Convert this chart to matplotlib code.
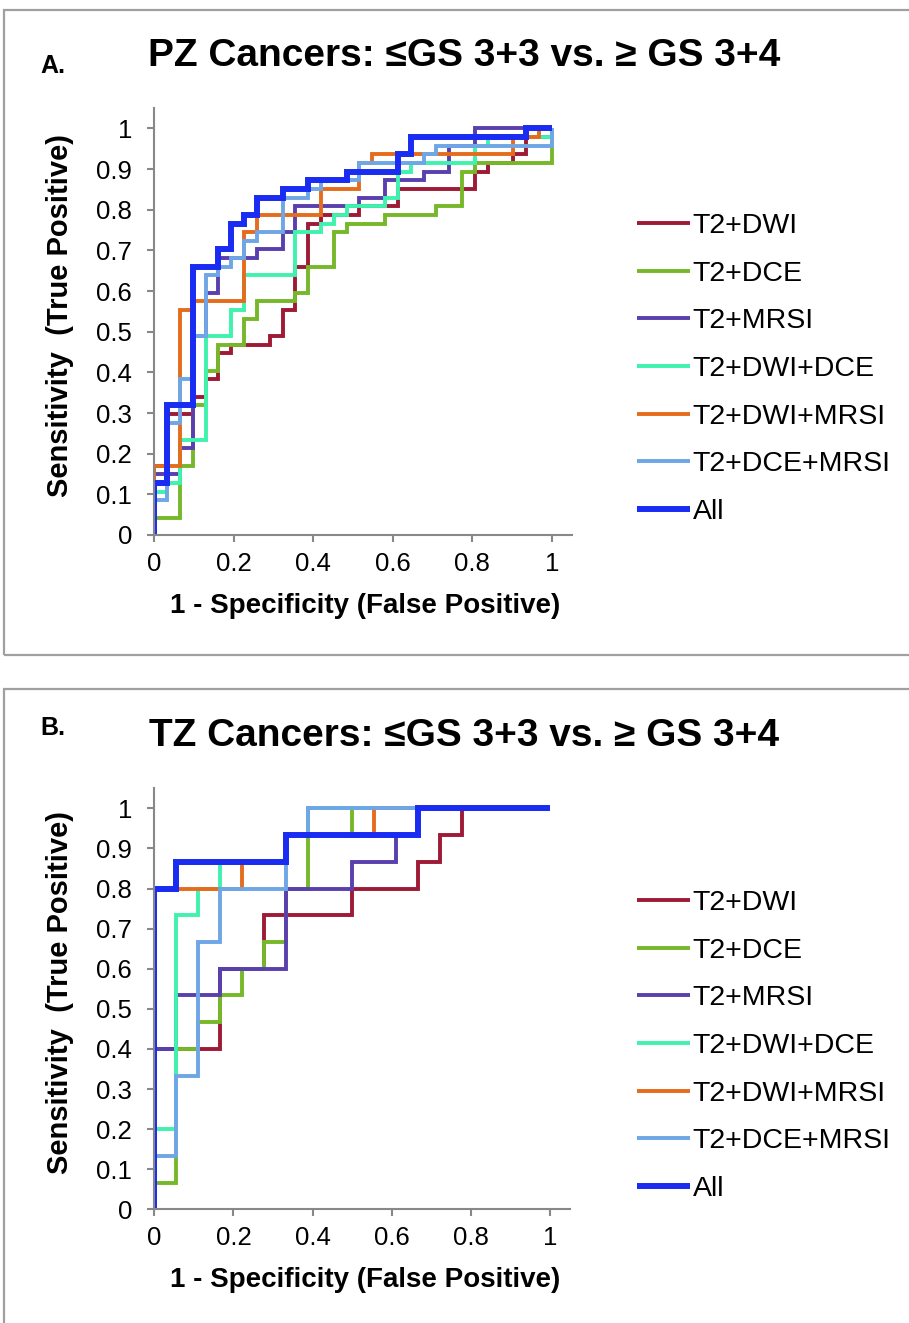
import matplotlib
matplotlib.use('Agg')
import matplotlib.pyplot as plt
from matplotlib.patches import Rectangle

plt.rcParams['font.family'] = ['Liberation Sans', 'DejaVu Sans']

labels = ['T2+DWI', 'T2+DCE', 'T2+MRSI', 'T2+DWI+DCE', 'T2+DWI+MRSI', 'T2+DCE+MRSI', 'All']
colors = ['#9e1a35', '#76b82a', '#5a3fae', '#3ff2ad', '#e46c1c', '#6fa6e6', '#1a2cf2']

# PZ: 31 negatives, 47 positives (counts at each step corner)
pz_neg, pz_pos = 31, 47
pz_fp = [
    [0, 1, 3, 4, 5, 6, 9, 10, 11, 12, 13, 16, 19, 25, 26, 28, 29, 31, 31],
    [0, 2, 3, 4, 5, 7, 8, 11, 12, 14, 15, 18, 22, 24, 25, 31, 31],
    [0, 2, 3, 4, 5, 8, 10, 11, 16, 18, 21, 23, 25, 31],
    [0, 1, 2, 4, 6, 7, 11, 13, 14, 15, 18, 19, 20, 25, 26, 31, 31],
    [0, 2, 3, 7, 8, 13, 16, 17, 28, 30, 31],
    [0, 1, 2, 3, 4, 5, 6, 7, 8, 10, 12, 13, 16, 21, 22, 31, 31],
    [0, 1, 3, 5, 6, 7, 8, 10, 12, 15, 19, 20, 29, 31],
]
pz_tp = [
    [0, 8, 14, 16, 18, 21, 22, 23, 26, 31, 36, 37, 38, 40, 42, 43, 44, 46, 47],
    [0, 2, 8, 15, 19, 22, 25, 27, 28, 31, 35, 36, 37, 38, 42, 43, 47],
    [0, 7, 10, 23, 28, 32, 33, 35, 38, 39, 41, 42, 45, 47],
    [0, 5, 6, 11, 23, 26, 30, 35, 36, 37, 38, 39, 42, 43, 45, 46, 47],
    [0, 8, 26, 27, 35, 37, 40, 43, 44, 46, 47],
    [0, 4, 13, 18, 23, 30, 31, 32, 34, 35, 39, 40, 41, 43, 44, 45, 47],
    [0, 6, 15, 31, 33, 36, 37, 39, 40, 41, 42, 44, 46, 47],
]

# TZ: 18 negatives, 15 positives
tz_neg, tz_pos = 18, 15
tz_fp = [
    [0, 3, 5, 9, 12, 13, 14, 18],
    [0, 1, 2, 3, 4, 5, 6, 7, 9, 18],
    [0, 1, 3, 6, 9, 11, 12, 18],
    [0, 1, 2, 3, 6, 7, 18],
    [0, 4, 6, 10, 18],
    [0, 1, 2, 3, 6, 7, 18],
    [0, 1, 6, 12, 18],
]
tz_tp = [
    [0, 6, 9, 11, 12, 13, 14, 15],
    [0, 1, 6, 7, 8, 9, 10, 12, 14, 15],
    [0, 6, 8, 9, 12, 13, 14, 15],
    [0, 3, 11, 12, 13, 14, 15],
    [0, 12, 13, 14, 15],
    [0, 2, 5, 10, 12, 14, 15],
    [0, 12, 13, 14, 15],
]

xticks = [0, 0.2, 0.4, 0.6, 0.8, 1]
xticklabels = ['0', '0.2', '0.4', '0.6', '0.8', '1']
yticks = [i / 10 for i in range(11)]
yticklabels = ['0', '0.1', '0.2', '0.3', '0.4', '0.5', '0.6', '0.7', '0.8', '0.9', '1']

W, H = 909, 1323
fig = plt.figure(figsize=(W / 100, H / 100), dpi=100)


def px(x, y):
    return x / W, 1 - y / H


def panel(rect, fp, tp, nneg, npos, letter, title, box, title_base, letter_base, leg_top):
    # panel frame
    x0, y0 = px(box[0], box[1])
    x1, y1 = px(box[2], box[3])
    fig.add_artist(Rectangle((x0, y1), x1 - x0, y0 - y1, transform=fig.transFigure,
                             fill=False, edgecolor='#a0a0a0', linewidth=1.6))
    ax = fig.add_axes(rect)
    for i in range(len(labels)):
        xs = [v / nneg for v in fp[i]]
        ys = [v / npos for v in tp[i]]
        lw = 4.3 if labels[i] == 'All' else 2.8
        ax.plot(xs, ys, drawstyle='steps-pre', color=colors[i], lw=lw,
                label=labels[i], solid_capstyle='butt', solid_joinstyle='miter')
    ax.set_xlim(0, 1.05)
    ax.set_ylim(0, 1.05)
    ax.set_xticks(xticks)
    ax.set_xticklabels(xticklabels)
    ax.set_yticks(yticks)
    ax.set_yticklabels(yticklabels)
    for s in ['top', 'right']:
        ax.spines[s].set_visible(False)
    for s in ['left', 'bottom']:
        ax.spines[s].set_color('#888888')
        ax.spines[s].set_linewidth(1.5)
    ax.tick_params(direction='out', length=5, width=1.5, color='#888888', labelsize=18.5)
    ax.tick_params(axis='x', pad=7)
    ax.tick_params(axis='y', pad=11)
    ax.set_facecolor('none')

    fig.text(*px(40, letter_base), letter, fontsize=18, fontweight='bold',
             ha='left', va='baseline')
    fig.text(*px(464, title_base), title, fontsize=28, fontweight='bold',
             ha='center', va='baseline')
    bottom_ax = (1 - rect[1]) * H
    top_ax = (1 - rect[1] - rect[3]) * H
    fig.text(*px(365, bottom_ax + 71), '1 - Specificity (False Positive)', fontsize=20,
             fontweight='bold', ha='center', va='center')
    fig.text(*px(60, (bottom_ax + top_ax) / 2 - 6), 'Sensitivity  (True Positive)',
             fontsize=21, fontweight='bold', rotation=90, ha='center', va='center')

    ax.legend(loc='upper left', bbox_to_anchor=px(637, leg_top),
              bbox_transform=fig.transFigure, frameon=False, fontsize=20.5,
              handlelength=1.86, handletextpad=0.1, labelspacing=0.76,
              borderpad=0, borderaxespad=0)
    return ax


panel([154.3 / W, 1 - 535 / H, 417.4 / W, 427 / H], pz_fp, pz_tp, pz_neg, pz_pos,
      'A.', 'PZ Cancers: \u2264GS 3+3 vs. \u2265 GS 3+4', (4, 10, 930, 655), 66, 73, 213)
panel([154.3 / W, 1 - 1209.3 / H, 415.7 / W, 421 / H], tz_fp, tz_tp, tz_neg, tz_pos,
      'B.', 'TZ Cancers: \u2264GS 3+3 vs. \u2265 GS 3+4', (4, 689, 930, 1340), 746, 735, 890)

fig.savefig('out.png', dpi=100)
